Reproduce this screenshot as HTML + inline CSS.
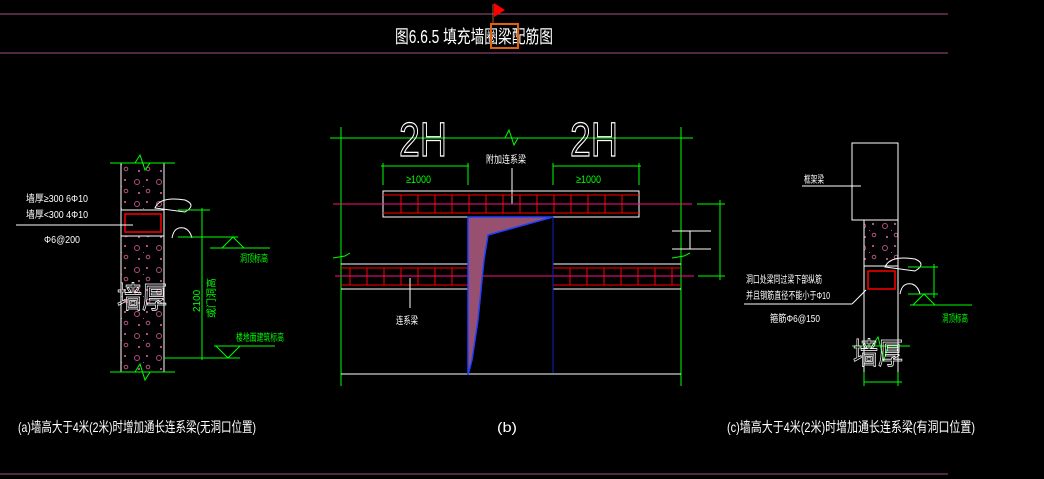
<!DOCTYPE html><html><head><meta charset="utf-8"><style>body{margin:0;background:#000;width:1044px;height:479px;overflow:hidden}svg{display:block}text{font-family:"Liberation Sans","Noto Sans CJK SC",sans-serif}</style></head><body>
<svg width="1044" height="479" viewBox="0 0 1044 479" xmlns="http://www.w3.org/2000/svg">
<defs>
<pattern id="conc" width="22" height="22" patternUnits="userSpaceOnUse"><circle cx="5" cy="6" r="2.5" fill="none" stroke="#b05080"/><rect x="14" y="3" width="2" height="2" fill="#b05080"/><circle cx="16" cy="15" r="1.8" fill="none" stroke="#b05080"/><rect x="6" y="16" width="2" height="2" fill="#b05080"/><rect x="11" y="10" width="1" height="1" fill="#b05080"/></pattern>
</defs>
<line x1="0" y1="14" x2="948" y2="14" stroke="#a05080"/>
<line x1="0" y1="53" x2="948" y2="53" stroke="#a05080"/>
<line x1="0" y1="474" x2="948" y2="474" stroke="#a05080"/>
<line x1="493" y1="4" x2="493" y2="25" stroke="#c05020"/>
<polygon points="494,3 505,10 494,17" fill="#f00"/>
<text x="395" y="43" fill="#fff" font-size="18" textLength="158" lengthAdjust="spacingAndGlyphs">图6.6.5  填充墙圈梁配筋图</text>
<rect x="491" y="24" width="27" height="24" fill="none" stroke="#e06010" stroke-width="2"/>

<!-- (a) -->
<rect x="121" y="163" width="43" height="209" fill="url(#conc)"/>
<rect x="121" y="210" width="43" height="26" fill="#000"/>
<line x1="121" y1="163" x2="121" y2="372" stroke="#fff"/><line x1="164" y1="163" x2="164" y2="372" stroke="#fff"/>
<line x1="110" y1="163" x2="175" y2="163" stroke="#0f0"/><line x1="110" y1="372" x2="175" y2="372" stroke="#0f0"/>
<polyline points="135,163 140,155 145,170 150,163" fill="none" stroke="#0f0"/>
<polyline points="135,372 140,364 145,380 150,372" fill="none" stroke="#0f0"/>
<line x1="121" y1="210" x2="164" y2="210" stroke="#fff"/><line x1="121" y1="236" x2="164" y2="236" stroke="#fff"/>
<rect x="125" y="214" width="36" height="18" fill="none" stroke="#f00" stroke-width="1.5"/>
<line x1="16" y1="225" x2="133" y2="225" stroke="#fff"/>
<text x="26" y="202" fill="#fff" font-size="10" textLength="62" lengthAdjust="spacingAndGlyphs">墙厚≥300 6Φ10</text>
<text x="26" y="218" fill="#fff" font-size="10" textLength="62" lengthAdjust="spacingAndGlyphs">墙厚&lt;300 4Φ10</text>
<text x="44" y="243" fill="#fff" font-size="10" textLength="36" lengthAdjust="spacingAndGlyphs">Φ6@200</text>
<path d="M155,208 q5,-12 30,-8 q12,5 0,12 z" fill="none" stroke="#fff"/>
<path d="M172,238 q2,-12 12,-10 q6,2 8,10" fill="none" stroke="#fff"/>
<line x1="178" y1="210" x2="210" y2="210" stroke="#0f0"/><line x1="178" y1="237" x2="238" y2="237" stroke="#0f0"/>
<line x1="202" y1="208" x2="202" y2="360" stroke="#0f0"/>
<polygon points="222,248 233,237 244,248" fill="none" stroke="#0f0"/><line x1="210" y1="248" x2="270" y2="248" stroke="#0f0"/>
<text x="240" y="262" fill="#0f0" font-size="10" textLength="28" lengthAdjust="spacingAndGlyphs">洞顶标高</text>
<polygon points="216,346 228,358 240,346" fill="none" stroke="#0f0"/><line x1="214" y1="346" x2="275" y2="346" stroke="#0f0"/>
<line x1="164" y1="358" x2="240" y2="358" stroke="#0f0"/>
<text x="236" y="341" fill="#0f0" font-size="10" textLength="48" lengthAdjust="spacingAndGlyphs">楼地面建筑标高</text>
<text transform="translate(200,312) rotate(-90)" fill="#0f0" font-size="10">2100</text>
<text transform="translate(215,318) rotate(-90)" fill="#0f0" font-size="10">或门洞高</text>
<text x="117" y="308" fill="none" stroke="#fff" stroke-width="0.8" font-size="30" textLength="50" lengthAdjust="spacingAndGlyphs">墙厚</text>
<text x="18" y="432" fill="#fff" font-size="14" textLength="238" lengthAdjust="spacingAndGlyphs">(a)墙高大于4米(2米)时增加通长连系梁(无洞口位置)</text>

<!-- (b) -->
<line x1="330" y1="138" x2="693" y2="138" stroke="#0f0"/>
<polyline points="505,138 509,130 514,145 518,138" fill="none" stroke="#0f0"/>
<line x1="341" y1="127" x2="341" y2="386" stroke="#0f0"/><line x1="681" y1="127" x2="681" y2="386" stroke="#0f0"/>
<text x="399" y="156" fill="none" stroke="#fff" stroke-width="1.2" font-size="48" textLength="48" lengthAdjust="spacingAndGlyphs">2H</text>
<text x="570" y="156" fill="none" stroke="#fff" stroke-width="1.2" font-size="48" textLength="48" lengthAdjust="spacingAndGlyphs">2H</text>
<line x1="381" y1="166" x2="469" y2="166" stroke="#0f0"/><line x1="553" y1="166" x2="641" y2="166" stroke="#0f0"/>
<line x1="383" y1="163" x2="383" y2="185" stroke="#0f0"/><line x1="468" y1="163" x2="468" y2="185" stroke="#0f0"/>
<line x1="553" y1="163" x2="553" y2="185" stroke="#0f0"/><line x1="639" y1="163" x2="639" y2="185" stroke="#0f0"/>
<text x="406" y="183" fill="#0f0" font-size="11" textLength="25" lengthAdjust="spacingAndGlyphs">≥1000</text><text x="576" y="183" fill="#0f0" font-size="11" textLength="25" lengthAdjust="spacingAndGlyphs">≥1000</text>
<text x="486" y="163" fill="#fff" font-size="10" textLength="40" lengthAdjust="spacingAndGlyphs">附加连系梁</text>
<line x1="512" y1="168" x2="512" y2="204" stroke="#fff"/>
<rect x="383" y="191" width="256" height="26" fill="none" stroke="#fff"/>
<g stroke="#f00"><line x1="383" y1="195" x2="639" y2="195"/><line x1="383" y1="213" x2="639" y2="213"/>
<path d="M401,195v18M418,195v18M435,195v18M452,195v18M469,195v18M486,195v18M503,195v18M520,195v18M537,195v18M554,195v18M571,195v18M588,195v18M605,195v18M622,195v18"/>
<line x1="341" y1="268" x2="468" y2="268"/><line x1="341" y1="285" x2="468" y2="285"/>
<line x1="553" y1="268" x2="681" y2="268"/><line x1="553" y1="285" x2="681" y2="285"/>
<path d="M350,268v17M367,268v17M384,268v17M401,268v17M418,268v17M435,268v17M452,268v17M570,268v17M587,268v17M604,268v17M621,268v17M638,268v17M655,268v17M672,268v17"/></g>
<g stroke="#fff"><line x1="341" y1="264" x2="468" y2="264"/><line x1="341" y1="289" x2="468" y2="289"/><line x1="553" y1="264" x2="681" y2="264"/><line x1="553" y1="289" x2="681" y2="289"/><line x1="341" y1="374" x2="681" y2="374"/></g>
<line x1="333" y1="204" x2="692" y2="204" stroke="#ff1080"/>
<line x1="335" y1="276" x2="694" y2="276" stroke="#ff1080"/>
<polygon points="468,217 553,217 488,235 484,260 478,320 472,360 468,375" fill="#985070" stroke="#2040ff" stroke-width="1.5"/>
<line x1="553" y1="217" x2="553" y2="373" stroke="#1020c0"/>
<polyline points="333,258 345,256 350,253" fill="none" stroke="#0f0"/><polyline points="672,258 684,256 690,253" fill="none" stroke="#0f0"/>
<line x1="410" y1="278" x2="410" y2="308" stroke="#fff"/>
<text x="396" y="324" fill="#fff" font-size="10" textLength="22" lengthAdjust="spacingAndGlyphs">连系梁</text>
<line x1="697" y1="204" x2="725" y2="204" stroke="#0f0"/><line x1="698" y1="276" x2="725" y2="276" stroke="#0f0"/>
<line x1="720" y1="200" x2="720" y2="280" stroke="#0f0"/>
<g stroke="#fff"><line x1="672" y1="231" x2="711" y2="231"/><line x1="672" y1="249" x2="711" y2="249"/><line x1="690" y1="231" x2="690" y2="249"/></g>
<text x="497" y="432" fill="#fff" font-size="14" textLength="20" lengthAdjust="spacingAndGlyphs">(b)</text>

<!-- (c) -->
<rect x="852" y="143" width="46" height="77" fill="none" stroke="#fff"/>
<line x1="802" y1="186" x2="861" y2="186" stroke="#fff"/>
<text x="804" y="183" fill="#fff" font-size="10" textLength="20" lengthAdjust="spacingAndGlyphs">框架梁</text>
<rect x="864" y="220" width="34" height="46" fill="url(#conc)" stroke="#fff"/>
<line x1="864" y1="266" x2="864" y2="372" stroke="#fff"/><line x1="898" y1="266" x2="898" y2="372" stroke="#fff"/>
<rect x="868" y="271" width="27" height="18" fill="none" stroke="#f00" stroke-width="1.5"/>
<path d="M885,267 q5,-12 30,-8 q12,5 0,12 z" fill="none" stroke="#fff"/>
<path d="M900,294 q2,-12 12,-10 q6,2 8,10" fill="none" stroke="#fff"/>
<line x1="908" y1="267" x2="938" y2="267" stroke="#0f0"/><line x1="908" y1="294" x2="938" y2="294" stroke="#0f0"/>
<line x1="934" y1="264" x2="934" y2="298" stroke="#0f0"/>
<polygon points="913,305 924,294 935,305" fill="none" stroke="#0f0"/><line x1="910" y1="305" x2="972" y2="305" stroke="#0f0"/>
<text x="942" y="322" fill="#0f0" font-size="10" textLength="26" lengthAdjust="spacingAndGlyphs">洞顶标高</text>
<line x1="744" y1="304" x2="852" y2="304" stroke="#fff"/><line x1="852" y1="304" x2="866" y2="290" stroke="#fff"/>
<text x="746" y="283" fill="#fff" font-size="10" textLength="76" lengthAdjust="spacingAndGlyphs">洞口处梁同过梁下部纵筋</text>
<text x="746" y="299" fill="#fff" font-size="10" textLength="84" lengthAdjust="spacingAndGlyphs">并且钢筋直径不能小于Φ10</text>
<text x="770" y="322" fill="#fff" font-size="10" textLength="50" lengthAdjust="spacingAndGlyphs">箍筋Φ6@150</text>
<line x1="852" y1="346" x2="910" y2="346" stroke="#0f0"/>
<polyline points="872,346 878,337 884,360 888,346" fill="none" stroke="#0f0"/>
<line x1="864" y1="382" x2="902" y2="382" stroke="#0f0"/>
<line x1="864" y1="372" x2="864" y2="386" stroke="#0f0"/><line x1="898" y1="372" x2="898" y2="386" stroke="#0f0"/>
<text x="853" y="364" fill="none" stroke="#fff" stroke-width="0.8" font-size="30" textLength="50" lengthAdjust="spacingAndGlyphs">墙厚</text>
<text x="727" y="432" fill="#fff" font-size="14" textLength="248" lengthAdjust="spacingAndGlyphs">(c)墙高大于4米(2米)时增加通长连系梁(有洞口位置)</text>
</svg></body></html>
